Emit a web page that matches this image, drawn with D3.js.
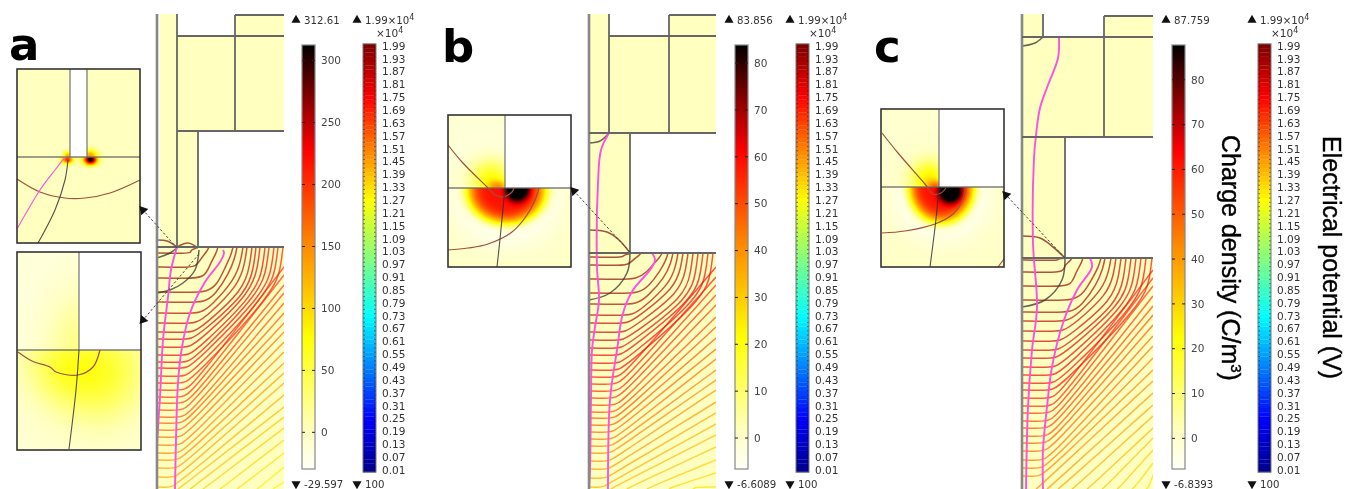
<!DOCTYPE html>
<html>
<head>
<meta charset="utf-8">
<script src="https://cdnjs.cloudflare.com/ajax/libs/d3/7.8.5/d3.min.js"></script>
<style>
html, body { margin: 0; padding: 0; background: #fff; overflow: hidden; }
text { font-family: "DejaVu Sans", sans-serif; }
svg { filter: blur(0.45px); }
</style>
</head>
<body>
<div id="root"></div>
<script>
// legend values
var potentialTicks = [1.99,1.93,1.87,1.81,1.75,1.69,1.63,1.57,1.51,1.45,1.39,1.33,1.27,1.21,1.15,1.09,1.03,0.97,0.91,0.85,0.79,0.73,0.67,0.61,0.55,0.49,0.43,0.37,0.31,0.25,0.19,0.13,0.07,0.01]
var chargeTicksA = [300,250,200,150,100,50,0]
var chargeTicksB = [80,70,60,50,40,30,20,10,0]
var chargeTicksC = [80,70,60,50,40,30,20,10,0]
var chargeRangeA = [-29.597, 312.61]
var chargeRangeB = [-6.6089, 83.856]
var chargeRangeC = [-6.8393, 87.759]
var contourLevels = [1.99,1.97,1.95,1.93,1.91,1.89,1.87,1.85,1.83,1.81,1.79,1.77,1.75,1.73,1.71,1.69,1.67,1.65,1.63,1.61,1.59,1.57,1.55,1.53,1.51,1.49,1.47,1.45,1.43,1.41,1.39,1.37,1.35,1.33,1.31,1.29]

// colour maps (fraction of bar / potential in 1e4 V)
var heatStops = [0, 0.09, 0.31, 0.53, 0.75, 0.88, 1]
var heatColors = ['#fffffa', '#ffffbe', '#ffff00', '#ff8800', '#ff0000', '#800000', '#000000']
var rainbowStops = [0.01, 0.25, 0.49, 0.73, 0.99, 1.27, 1.75, 1.99]
var rainbowColors = ['#00008f', '#0000ff', '#0080ff', '#00ffff', '#80ff80', '#ffff00', '#ff0000', '#800000']

// contour read-offs: left edge depth, knee x, surface exit x, right edge depth, bottom edge x
var leftA = [6,20,31,45,55,66,76,85,92,100,108,115,121,129,136,143,150,156,163,170,176,183,190,198,206,213,221,230,240]
var kneeA = [35,40,48,50,48,44,40,37,35,33,32,31,30,29,28,28,27,27,26,26,25,24,24,23,22,21,20,18,15]
var topA = [41,52,61,76,80,86,90,95,99,103,108,112,117,121,126]
var rightA = [20,28,38,46,56,66,76,85,95,105,116,126,136,148,160,170,181,193,206,220,235]
var bottomA = [21,33,46,63,80,100,116]

var leftB = [4,12,26,40,51,62,70,79,87,95,102,110,117,124,131,138,145,152,159,165,172,179,186,193,200,208,216,225,234]
var kneeB = [35,40,48,50,48,44,40,37,35,33,32,31,30,29,28,28,27,27,26,26,25,24,24,23,22,21,20,18,15]
var topB = [42,52,73,79,84,89,94,99,104,109,114,119,124]
var rightB = [14,24,32,42,52,64,74,85,96,106,117,127,137,149,160,171,182,194,207,220,234]
var bottomB = [22,38,58,80,104]

var leftC = [2,14,28,42,54,63,73,83,92,100,109,117,125,132,140,148,155,163,170,178,185,193,202,210,218]
var kneeC = [38,42,50,52,50,46,42,39,37,35,34,33,32,31,30,29,28,27,26,25,24,23,22,20,18]
var topC = [43,50,61,79,83,89,94,99,104,109,114,119,124,130]
var rightC = [12,20,28,38,48,57,67,78,88,100,112,123,135,147,158,170,180,192,205,217]
var bottomC = [14,25,36,50,65,80,95,110,124]

// other field lines: [x from wall, depth below surface]
var magentaA = [[[20,0],[14,23],[11,50],[6,93],[3,150],[0,200],[0,223]], [[66,3],[67,6],[63,15],[48,35],[33,66],[25,100],[21,136],[19,193],[18,242]]]
var magentaB = [[[20,-120],[12,-103],[9,-70],[8,14],[10,47],[6,74],[3,97],[2,147],[1,217],[0,236]], [[63,0],[66,7],[61,17],[44,37],[34,60],[28,97],[21,147],[19,236]]]
var magentaC = [[[37,-221],[36,-200],[26,-173],[18,-150],[14,-123],[12,-100],[11,-15],[15,49],[10,92],[6,149],[4,231]], [[68,0],[70,9],[55,32],[41,65],[30,109],[25,149],[21,192],[21,231]]]
var blackA = [[[42,3],[38,23],[26,36],[13,43],[0,46]], [[21,0],[13,6],[0,11]]]
var blackB = [[[41,0],[38,20],[21,40],[0,47]], [[20,-120],[11,-112],[0,-110]]]
var blackC = [[[43,0],[40,22],[23,42],[0,49]], [[21,-221],[13,-215],[0,-212]]]
var brownA = [[[0,-7],[10,-6],[20,0]], [[20,0],[31,-4],[41,1]]]
var brownB = [[[0,-23],[18,-21],[30,-13],[41,0]]]
var brownC = [[[0,-22],[18,-20],[31,-11],[43,0]]]

// device outline: fills are [x, depth, width, height], edges are [x1, depth1, x2, depth2]
var fillsA = [[3,-233,17,233],[20,-211,107,95],[78,-232,49,21],[20,-116,21,116],[0,0,127,242]]
var edgesA = [[0,-233,0,242],[20,-233,20,0],[20,-211,127,-211],[78,-232,127,-232],[78,-232,78,-116],[20,-116,127,-116],[41,-116,41,0],[0,0,127,0]]
var fillsB = [[0,-239,20,119],[20,-217,107,97],[80,-238,47,21],[0,-120,41,120],[0,0,127,236]]
var edgesB = [[0,-239,0,236],[20,-239,20,-120],[20,-217,127,-217],[80,-238,127,-238],[80,-238,80,-120],[0,-120,127,-120],[41,-120,41,0],[0,0,127,0]]
var fillsC = [[0,-244,21,23],[0,-221,131,100],[82,-242,49,21],[0,-121,43,121],[0,0,131,231]]
var edgesC = [[0,-244,0,231],[21,-244,21,-221],[0,-221,131,-221],[82,-242,131,-242],[82,-242,82,-121],[0,-121,131,-121],[43,-121,43,0],[0,0,131,0]]

// charge blobs in the zoomed insets: [x, y, spread x, spread y, bar fraction, sharpness]
var insetA1Upper = [[50,86,3,3,0.35,2],[73,86,5,4,0.4,2]]
var insetA1Lower = [[50,90,4,3,0.6,2],[73,90,5,4,1,2],[73,92,10,9,-0.06,4]]
var insetA2Upper = [[62,98,24,42,0.11,2]]
var insetA2Lower = [[83,126,30,32,0.17,2],[42,118,22,26,0.1,2],[62,100,60,25,0.05,2]]
var insetBUpper = [[42,63,15,14,0.26,2],[50,72,8,5,0.3,2],[38,55,26,26,-0.03,2]]
var insetBLower = [[58,75,40,34,0.72,6],[69,73,13,14,0.35,4],[58,82,56,51,-0.07,4]]
var insetCUpper = [[48,70,13,13,0.28,2],[54,77,6,4,0.3,2]]
var insetCLower = [[60,78,33,36,0.72,6],[69,82,13,13,0.33,4],[60,85,50,48,-0.07,4]]

// inset lines
var insetA1Magenta = [[0,160],[23,121],[38,101],[48,88]]
var insetA1Black = [[21,174],[38,141],[48,111],[51,91]]
var insetA1Brown = [[0,110],[23,123],[48,129],[68,129],[93,124],[123,111]]
var insetA2Brown = [[1,100],[15,109],[33,115],[39,120],[61,123],[76,115],[83,98]]
var insetA2Black = [[62,98],[59,138],[52,197]]
var insetBBrown = [[[0,30],[14,47],[39,72],[47,80],[55,82],[64,77],[66,73]], [[0,135],[20,133],[40,129],[64,117],[79,100],[87,85],[91,73]]]
var insetBBlack = [[57,73],[52,124],[49,152]]
var insetCBrown = [[[1,24],[17,44],[44,75],[52,85],[60,84],[65,79]], [[1,124],[24,122],[54,115],[72,105],[82,90],[84,79]], [[117,158],[123,150]]]
var insetCBlack = [[58,78],[55,110],[49,158]]

var width = 1346
var height = 489
var svg = d3.select('#root').append('svg')
    .attr('width', width)
    .attr('height', height)
    .style('display', 'block')

var heat = d3.scaleLinear().domain(heatStops).range(heatColors).clamp(true)
var rainbow = d3.scaleLinear().domain(rainbowStops).range(rainbowColors)

var clipCount = 0

function drawField(cfg) {
    var w = cfg.w
    var x = d3.scaleLinear().domain([0, w]).range([cfg.x, cfg.x + w])
    var y = d3.scaleLinear().domain([0, 100]).range([cfg.y, cfg.y + 100])
    var g = svg.append('g')

    g.selectAll('rect.fill').data(cfg.fills).enter().append('rect')
        .attr('class', 'fill')
        .attr('x', function (d) { return x(d[0]) })
        .attr('y', function (d) { return y(d[1]) })
        .attr('width', function (d) { return d[2] })
        .attr('height', function (d) { return d[3] })
        .attr('fill', '#ffffbf')

    // contours are clipped to the silicon under the surface
    var id = 'field' + (clipCount++)
    svg.append('clipPath').attr('id', id).append('rect')
        .attr('x', x(0)).attr('y', y(0)).attr('width', w).attr('height', height - y(0))

    var curve = d3.line()
        .x(function (d) { return x(d[0]) })
        .y(function (d) { return y(d[1]) })
        .curve(d3.curveBasis)

    var contours = d3.range(cfg.left.length + cfg.bottom.length).map(function (i) {
        var pts = []
        if (i < cfg.left.length) {
            var d0 = cfg.left[i]
            var k = cfg.knee[i]
            pts = [[0, d0], [k * 0.6, d0 + 0.5], [k, d0]]
            var limit = i < cfg.top.length ? cfg.top[i] - 8 : w
            if (k + 10 < limit) pts.push([k + 10, d0 - 7])
        } else {
            var xb = cfg.bottom[i - cfg.left.length]
            pts = [[xb, height - cfg.y], [xb + 3, height - cfg.y - 2]]
        }
        if (i < cfg.top.length) {
            var bend = Math.min(45, pts[pts.length - 1][1] * 0.55)
            pts.push([cfg.top[i] - 8, bend], [cfg.top[i] - 2, bend * 0.4], [cfg.top[i], 0])
        } else {
            pts.push([w, cfg.right[i - cfg.top.length]])
        }
        return { level: contourLevels[i], pts: pts }
    })

    var lines = g.append('g').attr('clip-path', 'url(#' + id + ')')
    lines.selectAll('path').data(contours).enter().append('path')
        .attr('fill', 'none')
        .attr('stroke', function (d) { return rainbow(d.level) })
        .attr('stroke-opacity', 0.68)
        .attr('stroke-width', 1.5)
        .attr('d', function (d) { return curve(d.pts) })

    var smooth = d3.line()
        .x(function (d) { return x(d[0]) })
        .y(function (d) { return y(d[1]) })
        .curve(d3.curveCatmullRom)

    g.selectAll('path.brown').data(cfg.brown).enter().append('path')
        .attr('class', 'brown').attr('fill', 'none')
        .attr('stroke', '#8a3a2a').attr('stroke-width', 1.6).attr('stroke-opacity', 0.85)
        .attr('d', smooth)
    g.selectAll('path.black').data(cfg.black).enter().append('path')
        .attr('class', 'black').attr('fill', 'none')
        .attr('stroke', '#333').attr('stroke-width', 1.5).attr('stroke-opacity', 0.75)
        .attr('d', smooth)
    g.selectAll('path.magenta').data(cfg.magenta).enter().append('path')
        .attr('class', 'magenta').attr('fill', 'none')
        .attr('stroke', '#ff4fe8').attr('stroke-width', 1.9)
        .attr('d', smooth)

    g.selectAll('line').data(cfg.edges).enter().append('line')
        .attr('x1', function (d) { return x(d[0]) })
        .attr('y1', function (d) { return y(d[1]) })
        .attr('x2', function (d) { return x(d[2]) })
        .attr('y2', function (d) { return y(d[3]) })
        .attr('stroke', function (d) { return d[0] == 0 && d[2] == 0 ? '#888' : '#666' })
        .attr('stroke-width', function (d) { return d[0] == 0 && d[2] == 0 ? 2.6 : 1.8 })
}

function drawBars(cfg) {
    var g = svg.append('g')
    var bar = cfg.bar
    var cy = d3.scaleLinear().domain(cfg.range).range([469, 45])
    var frac = d3.scaleLinear().domain(cfg.range).range([0, 1])
    var rows = d3.range(45, 469)
    g.selectAll('rect.ramp').data(rows).enter().append('rect')
        .attr('class', 'ramp')
        .attr('x', bar).attr('y', function (d) { return d })
        .attr('width', 13).attr('height', 1.2)
        .attr('fill', function (d) { return heat(frac(cy.invert(d + 0.5))) })
    g.append('rect').attr('x', bar).attr('y', 45).attr('width', 13).attr('height', 424)
        .attr('fill', 'none').attr('stroke', '#888').attr('stroke-width', 1.2)

    var ticks = g.selectAll('g.ct').data(cfg.ticks).enter().append('g')
        .attr('class', 'ct')
        .attr('transform', function (d) { return 'translate(0,' + cy(d) + ')' })
    ticks.append('line').attr('x1', bar).attr('x2', bar + 3).attr('stroke', '#222')
    ticks.append('line').attr('x1', bar + 10).attr('x2', bar + 13).attr('stroke', '#222')
    ticks.append('text').attr('x', bar + 19).attr('dy', '0.36em')
        .attr('font-size', 10.5).attr('fill', '#444')
        .text(function (d) { return d })

    var rb = cfg.rainbow
    var py = d3.scaleLinear().domain([0.01, 1.99]).range([470, 46])
    var step = py(0.01) - py(0.03)
    g.selectAll('rect.lvl').data(d3.range(0.01, 2, 0.02)).enter().append('rect')
        .attr('class', 'lvl')
        .attr('x', rb).attr('y', function (d) { return py(d) - step / 2 })
        .attr('width', 13).attr('height', step + 0.2)
        .attr('fill', function (d) { return rainbow(d) })
    g.selectAll('line.lm').data(d3.range(0.02, 2, 0.02)).enter().append('line')
        .attr('class', 'lm')
        .attr('x1', rb).attr('x2', rb + 13)
        .attr('y1', function (d) { return py(d) }).attr('y2', function (d) { return py(d) })
        .attr('stroke', '#000').attr('stroke-opacity', 0.5)
        .attr('stroke-dasharray', '2 9')
    g.append('rect').attr('x', rb).attr('y', py(1.99) - step / 2).attr('width', 13).attr('height', py(0.01) - py(1.99) + step)
        .attr('fill', 'none').attr('stroke', '#777').attr('stroke-width', 1)
    g.selectAll('text.pt').data(potentialTicks).enter().append('text')
        .attr('class', 'pt')
        .attr('x', rb + 19).attr('y', function (d) { return py(d) }).attr('dy', '0.36em')
        .attr('font-size', 10.5).attr('fill', '#333')
        .text(function (d) { return d3.format('.2f')(d) })

    // extreme value markers
    var tri = d3.symbol().type(d3.symbolTriangle).size(36)
    function marker(px, py2, up, label) {
        g.append('path').attr('d', tri)
            .attr('transform', 'translate(' + px + ',' + py2 + ')' + (up ? '' : ' rotate(180)'))
            .attr('fill', '#111')
        return g.append('text').attr('x', px + 8).attr('y', py2).attr('dy', '0.38em')
            .attr('font-size', 10.2).attr('fill', '#333').text(label)
    }
    marker(bar - 6, 20, true, cfg.maxLabel)
    marker(bar - 6, 484, false, cfg.minLabel)
    marker(rb - 6, 20, true, '1.99×10')
        .append('tspan').attr('dy', -4).attr('font-size', 8).text('4')
    marker(rb - 6, 484, false, '100')
    var ex = g.append('text').attr('x', rb + 13).attr('y', 37)
        .attr('font-size', 10.5).attr('fill', '#333').text('×10')
    ex.append('tspan').attr('dy', -4).attr('font-size', 8).text('4')
}

function drawInset(cfg) {
    var w = cfg.w
    var h = cfg.h
    var x = d3.scaleLinear().domain([0, w]).range([cfg.x, cfg.x + w])
    var y = d3.scaleLinear().domain([0, h]).range([cfg.y, cfg.y + h])
    var canvas = document.createElement('canvas')
    canvas.width = w
    canvas.height = h
    var ctx = canvas.getContext('2d')
    var img = ctx.createImageData(w, h)
    function sum(blobs, base, px, py) {
        var t = base
        blobs.forEach(function (b) {
            var r = Math.pow((px - b[0]) / b[2], 2) + Math.pow((py - b[1]) / b[3], 2)
            t += b[4] * Math.exp(-Math.pow(r, b[5] / 2) * (b[5] == 2 ? 0.5 : 1))
        })
        return t
    }
    for (var j = 0; j < h; j++) {
        for (var i = 0; i < w; i++) {
            var up = j < cfg.split
            var t = up ? sum(cfg.upper, cfg.baseUpper, i, j) : sum(cfg.lower, cfg.baseLower, i, j)
            var c = d3.rgb(heat(Math.max(0, t)))
            var n = (j * w + i) * 4
            img.data[n] = c.r
            img.data[n + 1] = c.g
            img.data[n + 2] = c.b
            img.data[n + 3] = 255
        }
    }
    ctx.putImageData(img, 0, 0)

    var g = svg.append('g')
    g.append('image').attr('x', x(0)).attr('y', y(0)).attr('width', w).attr('height', h)
        .attr('href', canvas.toDataURL())
    g.selectAll('rect.hole').data(cfg.holes).enter().append('rect')
        .attr('class', 'hole')
        .attr('x', function (d) { return x(d[0]) }).attr('y', function (d) { return y(d[1]) })
        .attr('width', function (d) { return d[2] }).attr('height', function (d) { return d[3] })
        .attr('fill', '#fff')
    g.selectAll('line').data(cfg.edges).enter().append('line')
        .attr('x1', function (d) { return x(d[0]) }).attr('y1', function (d) { return y(d[1]) })
        .attr('x2', function (d) { return x(d[2]) }).attr('y2', function (d) { return y(d[3]) })
        .attr('stroke', '#666').attr('stroke-opacity', 0.85).attr('stroke-width', 1.3)

    var smooth = d3.line().x(function (d) { return x(d[0]) }).y(function (d) { return y(d[1]) }).curve(d3.curveCatmullRom)
    g.selectAll('path.br').data(cfg.brown).enter().append('path').attr('class', 'br')
        .attr('fill', 'none').attr('stroke', '#a0503c').attr('stroke-width', 1.2).attr('d', smooth)
    g.selectAll('path.bl').data(cfg.black).enter().append('path').attr('class', 'bl')
        .attr('fill', 'none').attr('stroke', '#333').attr('stroke-opacity', 0.85).attr('stroke-width', 1.1).attr('d', smooth)
    g.selectAll('path.mg').data(cfg.magenta || []).enter().append('path').attr('class', 'mg')
        .attr('fill', 'none').attr('stroke', '#ff55dd').attr('stroke-width', 1.2).attr('d', smooth)
    g.append('rect').attr('x', x(0)).attr('y', y(0)).attr('width', w).attr('height', h)
        .attr('fill', 'none').attr('stroke', '#333').attr('stroke-width', 1.6)
}

// fields
drawField({ x: 157, y: 247, w: 127, fills: fillsA, edges: edgesA, left: leftA, knee: kneeA, top: topA, right: rightA, bottom: bottomA, magenta: magentaA, black: blackA, brown: brownA })
drawField({ x: 589, y: 253, w: 127, fills: fillsB, edges: edgesB, left: leftB, knee: kneeB, top: topB, right: rightB, bottom: bottomB, magenta: magentaB, black: blackB, brown: brownB })
drawField({ x: 1022, y: 258, w: 131, fills: fillsC, edges: edgesC, left: leftC, knee: kneeC, top: topC, right: rightC, bottom: bottomC, magenta: magentaC, black: blackC, brown: brownC })

// legends
drawBars({ bar: 302, rainbow: 363, range: chargeRangeA, ticks: chargeTicksA, maxLabel: '312.61', minLabel: '-29.597' })
drawBars({ bar: 735, rainbow: 796, range: chargeRangeB, ticks: chargeTicksB, maxLabel: '83.856', minLabel: '-6.6089' })
drawBars({ bar: 1172, rainbow: 1258, range: chargeRangeC, ticks: chargeTicksC, maxLabel: '87.759', minLabel: '-6.8393' })

// insets
drawInset({ x: 17, y: 69, w: 123, h: 174, split: 88, baseUpper: 0.0864, baseLower: 0.0864, upper: insetA1Upper, lower: insetA1Lower,
    holes: [[53, 0, 17, 88]], edges: [[0, 88, 123, 88], [53, 0, 53, 88], [70, 0, 70, 88]],
    brown: [insetA1Brown], black: [insetA1Black], magenta: [insetA1Magenta] })
drawInset({ x: 17, y: 252, w: 124, h: 198, split: 98, baseUpper: 0.045, baseLower: 0.06, upper: insetA2Upper, lower: insetA2Lower,
    holes: [[62, 0, 62, 98]], edges: [[0, 98, 124, 98], [62, 0, 62, 98]],
    brown: [insetA2Brown], black: [insetA2Black] })
drawInset({ x: 448, y: 115, w: 123, h: 152, split: 73, baseUpper: 0.06, baseLower: 0.075, upper: insetBUpper, lower: insetBLower,
    holes: [[57, 0, 66, 73]], edges: [[0, 73, 123, 73], [57, 0, 57, 73]],
    brown: insetBBrown, black: [insetBBlack] })
drawInset({ x: 881, y: 109, w: 123, h: 158, split: 78, baseUpper: 0.065, baseLower: 0.075, upper: insetCUpper, lower: insetCLower,
    holes: [[58, 0, 65, 78]], edges: [[0, 78, 123, 78], [58, 0, 58, 78]],
    brown: insetCBrown, black: [insetCBlack] })

// leader arrows: tail then tip
var leaders = [[[177, 248], [143, 210]], [[199, 254], [143, 320]], [[630, 252], [574, 191]], [[1065, 258], [1006, 195]]]
svg.selectAll('line.leader').data(leaders).enter().append('line')
    .attr('class', 'leader')
    .attr('x1', function (d) { return d[0][0] }).attr('y1', function (d) { return d[0][1] })
    .attr('x2', function (d) { return d[1][0] }).attr('y2', function (d) { return d[1][1] })
    .attr('stroke', '#444').attr('stroke-width', 1).attr('stroke-dasharray', '2.5 2')
svg.selectAll('path.head').data(leaders).enter().append('path')
    .attr('class', 'head')
    .attr('d', d3.symbol().type(d3.symbolTriangle).size(38))
    .attr('fill', '#111')
    .attr('transform', function (d) {
        var a = Math.atan2(d[1][1] - d[0][1], d[1][0] - d[0][0]) * 180 / Math.PI + 90
        return 'translate(' + d[1][0] + ',' + d[1][1] + ') rotate(' + a + ')'
    })

// panel letters
var panelLetters = [['a', 9, 60], ['b', 442, 62], ['c', 874, 62]]
svg.selectAll('text.letter').data(panelLetters).enter().append('text')
    .attr('class', 'letter')
    .attr('x', function (d) { return d[1] }).attr('y', function (d) { return d[2] })
    .attr('font-size', 45).attr('font-weight', 700).attr('fill', '#000')
    .text(function (d) { return d[0] })

// rotated titles
var t1 = svg.append('text')
    .attr('transform', 'translate(1222,135) rotate(90)')
    .style('font-family', '"Liberation Sans", sans-serif')
    .attr('font-size', 25).attr('fill', '#000').attr('stroke', '#000').attr('stroke-width', 0.4)
    .text('Charge density (C/m')
t1.append('tspan').attr('dy', -9).attr('font-size', 15).text('3')
t1.append('tspan').attr('dy', 9).text(')')
svg.append('text')
    .attr('transform', 'translate(1323,136) rotate(90)')
    .style('font-family', '"Liberation Sans", sans-serif')
    .attr('font-size', 25).attr('fill', '#000').attr('stroke', '#000').attr('stroke-width', 0.4)
    .text('Electrical potential (V)')
</script>
</body>
</html>
